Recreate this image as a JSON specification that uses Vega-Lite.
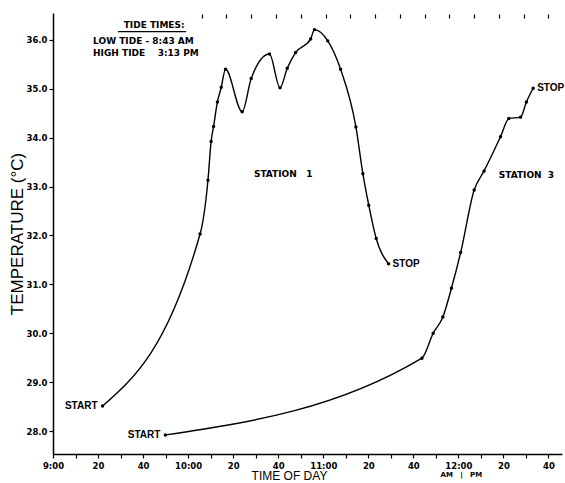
{
  "$schema": "https://vega.github.io/schema/vega-lite/v6.json",
  "autosize": {"type": "none"},
  "width": 509,
  "height": 441,
  "padding": {"left": 53, "top": 13, "right": 3, "bottom": 29},
  "background": "white",
  "datasets": {
    "readings": [
      {"station": "Station 1", "minute": 22.0, "temp": 28.51, "label": "START"},
      {"station": "Station 1", "minute": 65.3, "temp": 32.03},
      {"station": "Station 1", "minute": 68.8, "temp": 33.13},
      {"station": "Station 1", "minute": 70.2, "temp": 33.92},
      {"station": "Station 1", "minute": 71.3, "temp": 34.23},
      {"station": "Station 1", "minute": 73.0, "temp": 34.73},
      {"station": "Station 1", "minute": 74.7, "temp": 35.03},
      {"station": "Station 1", "minute": 76.6, "temp": 35.40},
      {"station": "Station 1", "minute": 84.0, "temp": 34.53},
      {"station": "Station 1", "minute": 88.0, "temp": 35.21},
      {"station": "Station 1", "minute": 96.1, "temp": 35.71},
      {"station": "Station 1", "minute": 100.8, "temp": 35.02},
      {"station": "Station 1", "minute": 104.0, "temp": 35.42},
      {"station": "Station 1", "minute": 107.7, "temp": 35.74},
      {"station": "Station 1", "minute": 114.4, "temp": 36.02},
      {"station": "Station 1", "minute": 116.1, "temp": 36.21},
      {"station": "Station 1", "minute": 122.0, "temp": 35.98},
      {"station": "Station 1", "minute": 127.7, "temp": 35.40},
      {"station": "Station 1", "minute": 134.5, "temp": 34.22},
      {"station": "Station 1", "minute": 137.6, "temp": 33.26},
      {"station": "Station 1", "minute": 140.2, "temp": 32.62},
      {"station": "Station 1", "minute": 143.5, "temp": 31.94},
      {"station": "Station 1", "minute": 149.0, "temp": 31.42, "label": "STOP"},
      {"station": "Station 3", "minute": 49.9, "temp": 27.92, "label": "START"},
      {"station": "Station 3", "minute": 163.8, "temp": 29.49},
      {"station": "Station 3", "minute": 168.8, "temp": 30.00},
      {"station": "Station 3", "minute": 173.1, "temp": 30.33},
      {"station": "Station 3", "minute": 176.9, "temp": 30.92},
      {"station": "Station 3", "minute": 181.0, "temp": 31.65},
      {"station": "Station 3", "minute": 187.0, "temp": 32.93},
      {"station": "Station 3", "minute": 191.4, "temp": 33.32},
      {"station": "Station 3", "minute": 198.7, "temp": 34.02},
      {"station": "Station 3", "minute": 202.4, "temp": 34.39},
      {"station": "Station 3", "minute": 207.6, "temp": 34.42},
      {"station": "Station 3", "minute": 210.2, "temp": 34.73},
      {"station": "Station 3", "minute": 213.2, "temp": 35.01, "label": "STOP"}
    ],
    "centered_notes": [
      {"text": "TIDE TIMES:", "minute": 44.9, "temp": 36.30},
      {"text": "STATION\u00a0\u00a0\u00a01", "minute": 102.2, "temp": 33.26},
      {"text": "STATION\u00a0\u00a03", "minute": 210.2, "temp": 33.24}
    ],
    "small_notes": [
      {"text": "AM\u00a0\u00a0\u00a0|\u00a0\u00a0\u00a0PM", "minute": 181.3, "temp": 27.10}
    ],
    "tide_notes": [
      {"text": "LOW TIDE - 8:43 AM", "minute": 17.8, "temp": 35.97},
      {"text": "HIGH TIDE\u00a0\u00a0\u00a0\u00a03:13 PM", "minute": 17.8, "temp": 35.73}
    ],
    "underline": [
      {"minute": 28.9, "minute2": 59.1, "temp": 36.17}
    ]
  },
  "encoding": {
    "y": {
      "field": "temp", "type": "quantitative",
      "scale": {"domain": [27.53, 36.55], "nice": false, "zero": false},
      "axis": {
        "values": [28, 29, 30, 31, 32, 33, 34, 35, 36],
        "format": ".1f",
        "title": "TEMPERATURE (°C)",
        "titleFont": "Liberation Sans",
        "titleFontSize": 17,
        "titleFontWeight": "normal",
        "titlePadding": 0,
        "labelPadding": 2
      }
    }
  },
  "layer": [
    {
      "data": {"name": "readings"},
      "mark": {"type": "line", "interpolate": "monotone", "color": "black", "strokeWidth": 1.4},
      "encoding": {
        "x": {
          "field": "minute", "type": "quantitative",
          "scale": {"domain": [0, 226], "nice": false, "zero": false},
          "axis": {
            "orient": "bottom",
            "values": [0,10,20,30,40,50,60,70,80,90,100,110,120,130,140,150,160,170,180,190,200,210,220],
            "labelExpr": "datum.value % 20 != 0 ? '' : (datum.value % 60 == 0 ? (9 + datum.value / 60) + ':00' : '' + (datum.value % 60))",
            "title": "TIME OF DAY",
            "titleFont": "Liberation Sans",
            "titleFontSize": 12,
            "titleFontWeight": "normal",
            "titleX": 236,
            "titleY": 16.5,
            "titleBaseline": "top",
            "labelFlush": false,
            "labelOverlap": false,
            "labelPadding": 3
          }
        },
        "detail": {"field": "station", "type": "nominal"}
      }
    },
    {
      "data": {"name": "readings"},
      "mark": {"type": "point", "filled": true, "color": "black", "size": 12, "opacity": 1},
      "encoding": {
        "x": {"field": "minute", "type": "quantitative", "scale": {"domain": [0, 226], "nice": false, "zero": false}, "axis": null}
      }
    },
    {
      "data": {"name": "readings"},
      "transform": [{"filter": "datum.label == 'START'"}],
      "mark": {"type": "text", "align": "right", "baseline": "middle", "dx": -5, "font": "Liberation Sans", "fontSize": 10, "fontWeight": "bold", "color": "black"},
      "encoding": {
        "x": {"field": "minute", "type": "quantitative", "scale": {"domain": [0, 226], "nice": false, "zero": false}, "axis": null},
        "text": {"field": "label"}
      }
    },
    {
      "data": {"name": "readings"},
      "transform": [{"filter": "datum.label == 'STOP'"}],
      "mark": {"type": "text", "align": "left", "baseline": "middle", "dx": 4, "font": "Liberation Sans", "fontSize": 10, "fontWeight": "bold", "color": "black"},
      "encoding": {
        "x": {"field": "minute", "type": "quantitative", "scale": {"domain": [0, 226], "nice": false, "zero": false}, "axis": null},
        "text": {"field": "label"}
      }
    },
    {
      "data": {"name": "centered_notes"},
      "mark": {"type": "text", "align": "center", "baseline": "middle", "font": "DejaVu Sans", "fontSize": 9, "fontWeight": "bold", "color": "black"},
      "encoding": {
        "x": {"field": "minute", "type": "quantitative", "scale": {"domain": [0, 226], "nice": false, "zero": false}, "axis": null},
        "text": {"field": "text"}
      }
    },
    {
      "data": {"name": "small_notes"},
      "mark": {"type": "text", "align": "center", "baseline": "middle", "font": "DejaVu Sans", "fontSize": 7, "fontWeight": "bold", "color": "black"},
      "encoding": {
        "x": {"field": "minute", "type": "quantitative", "scale": {"domain": [0, 226], "nice": false, "zero": false}, "axis": null},
        "text": {"field": "text"}
      }
    },
    {
      "data": {"name": "tide_notes"},
      "mark": {"type": "text", "align": "left", "baseline": "middle", "font": "DejaVu Sans", "fontSize": 9, "fontWeight": "bold", "color": "black"},
      "encoding": {
        "x": {"field": "minute", "type": "quantitative", "scale": {"domain": [0, 226], "nice": false, "zero": false}, "axis": null},
        "text": {"field": "text"}
      }
    },
    {
      "data": {"name": "underline"},
      "mark": {"type": "rule", "color": "black", "strokeWidth": 1.2},
      "encoding": {
        "x": {
          "field": "minute", "type": "quantitative",
          "scale": {"domain": [0, 226], "nice": false, "zero": false},
          "axis": {
            "orient": "top",
            "domain": false,
            "labels": false,
            "title": null,
            "tickSize": 4,
            "offset": -5,
            "values": [66, 77, 88, 99, 110, 121, 132, 143, 154, 165, 176, 187, 198, 209, 220]
          }
        },
        "x2": {"field": "minute2"}
      }
    }
  ],
  "resolve": {"axis": {"x": "independent"}},
  "config": {
    "view": {"stroke": null},
    "font": "DejaVu Sans",
    "axis": {
      "grid": false,
      "domainColor": "black",
      "domainWidth": 1.5,
      "tickColor": "black",
      "tickWidth": 1.2,
      "tickSize": 4,
      "labelColor": "black",
      "labelFont": "DejaVu Sans",
      "labelFontSize": 8.5,
      "labelFontWeight": "bold",
      "titleColor": "black"
    }
  }
}
